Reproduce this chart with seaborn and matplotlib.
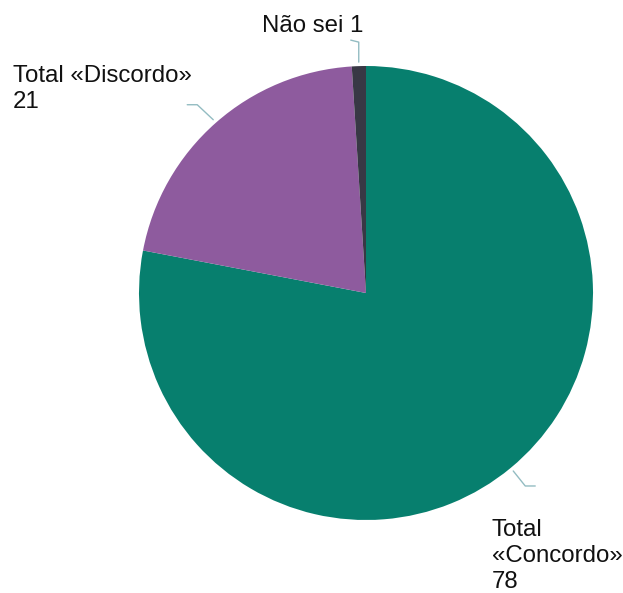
import numpy as np
import seaborn as sns
import matplotlib.pyplot as plt

sns.set_style("white")
plt.rcParams['font.family'] = ['Liberation Sans', 'DejaVu Sans']

labels = ['Total\n«Concordo»\n78', 'Total «Discordo»\n21', 'Não sei 1']
values = [78, 21, 1]
colors = ['#077F6E', '#8E5B9E', '#383845']

fig = plt.figure(figsize=(6.23, 5.93), dpi=100)
ax = fig.add_axes([0, 0, 1, 1])
ax.set_xlim(0, 623)
ax.set_ylim(0, 593)
ax.set_aspect('equal')
ax.axis('off')

cx, cy, r = 366, 300, 227
wedges, _ = ax.pie(values, colors=colors, startangle=90, counterclock=False,
                   center=(cx, cy), radius=r, wedgeprops=dict(linewidth=0))
ax.set_xlim(0, 623)
ax.set_ylim(0, 593)

# leader lines: (first segment, elbow, text position)
leaders = [
    ((12, -15), (10, 0), (492, 74)),
    ((-16, 15), (-10, 0), (13, 528)),
    ((0, 20), (-8, 2), (262, 578)),
]
line_color = '#93BCC2'
for w, lab, (d1, d2, tpos) in zip(wedges, labels, leaders):
    mid = np.deg2rad((w.theta1 + w.theta2) / 2)
    x0 = cx + (r + 4) * np.cos(mid)
    y0 = cy + (r + 4) * np.sin(mid)
    x1, y1 = x0 + d1[0], y0 + d1[1]
    x2, y2 = x1 + d2[0], y1 + d2[1]
    ax.plot([x0, x1, x2], [y0, y1, y2], color=line_color, lw=1)
    ax.text(tpos[0], tpos[1], lab, ha='left', va='top', fontsize=17.3,
            color='#111111', linespacing=1.25)

fig.savefig('out.png', dpi=100)
